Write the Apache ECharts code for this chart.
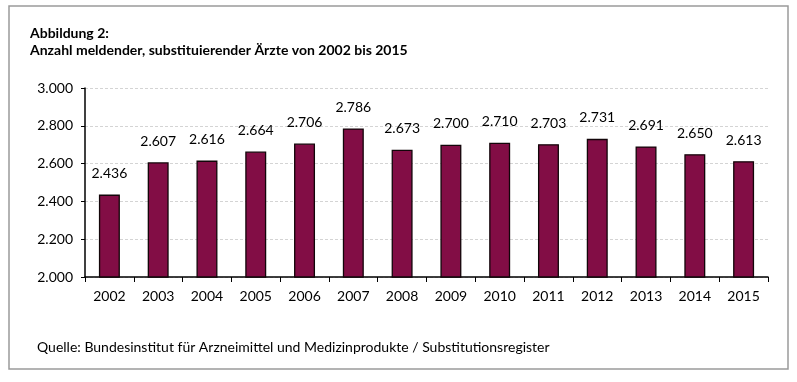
<!DOCTYPE html>
<html><head><meta charset="utf-8">
<script src="https://cdn.jsdelivr.net/npm/echarts@6/dist/echarts.min.js"></script>
<style>html,body{margin:0;padding:0;background:#fff}#c{width:797px;height:382px}</style>
</head><body><div id="c"></div>
<script>
const years = ['2002','2003','2004','2005','2006','2007','2008','2009','2010','2011','2012','2013','2014','2015'];
const doctors = [2436,2607,2616,2664,2706,2786,2673,2700,2710,2703,2731,2691,2650,2613];
const titleLine1 = 'Abbildung 2:';
const titleLine2 = 'Anzahl meldender, substituierender Ärzte von 2002 bis 2015';
const sourceText = 'Quelle: Bundesinstitut für Arzneimittel und Medizinprodukte / Substitutionsregister';
const fmt = v => { const s = String(Math.round(v)); return s.length > 3 ? s.slice(0, s.length-3) + '.' + s.slice(-3) : s; };
const FONT = 'Lato, "Open Sans", sans-serif';
const chart = echarts.init(document.getElementById('c'));
chart.setOption({
  animation: false,
  textStyle: { fontFamily: FONT },
  graphic: [
    { type: 'rect', shape: { x: 9, y: 6, width: 779, height: 363 }, style: { fill: 'none', stroke: '#9a9a9a', lineWidth: 1.5 } },
    { type: 'text', left: 30, top: 26, style: { text: titleLine1, font: 'bold 14px ' + FONT, fill: '#000' } },
    { type: 'text', left: 30, top: 43, style: { text: titleLine2, font: 'bold 14px ' + FONT, fill: '#000' } },
    { type: 'text', left: 37, top: 340, style: { text: sourceText, font: '14px ' + FONT, fill: '#000' } }
  ],
  grid: { left: 85, right: 29, top: 88, bottom: 105, containLabel: false },
  xAxis: {
    type: 'category', data: years, boundaryGap: true,
    axisLine: { lineStyle: { color: '#000', width: 1.5 } },
    axisTick: { show: true, length: 5, inside: false, lineStyle: { color: '#000' } },
    axisLabel: { color: '#000', fontSize: 14, margin: 12, fontFamily: FONT }
  },
  yAxis: {
    type: 'value', min: 2000, max: 3000, interval: 200,
    axisLine: { show: true, lineStyle: { color: '#000', width: 1.5 } },
    axisTick: { show: true, length: 4, lineStyle: { color: '#000' } },
    axisLabel: { color: '#000', fontSize: 14, margin: 12, formatter: fmt, fontFamily: FONT },
    splitLine: { show: true, lineStyle: { color: '#d4d4d4', type: [3, 2], width: 1 } }
  },
  series: [{
    type: 'bar', data: doctors, barWidth: '43%',
    itemStyle: { color: '#820d45', borderColor: '#120509', borderWidth: 1.3 },
    label: { show: true, position: 'top', distance: 14, color: '#000', fontSize: 14, formatter: p => fmt(p.value), fontFamily: FONT }
  }]
});
</script></body></html>
